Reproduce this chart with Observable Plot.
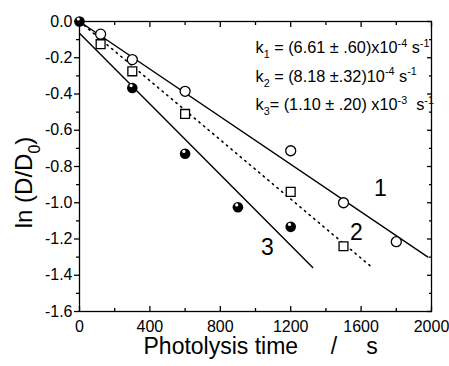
<!DOCTYPE html>
<html><head><meta charset="utf-8">
<script src="https://cdn.jsdelivr.net/npm/d3@7"></script>
<script src="https://cdn.jsdelivr.net/npm/@observablehq/plot@0.6"></script>
<style>html,body{margin:0;padding:0;background:#fff}</style>
</head><body><div id="chart"></div>
<script>
// Series 1: open circles
const series1X = [120, 300, 600, 1200, 1500, 1800];
const series1Y = [-0.07, -0.21, -0.385, -0.713, -1.00, -1.215];
// Series 2: open squares
const series2X = [120, 300, 600, 1200, 1500];
const series2Y = [-0.125, -0.275, -0.51, -0.94, -1.24];
// Series 3: filled spheres
const series3X = [0, 300, 600, 900, 1200];
const series3Y = [0, -0.367, -0.73, -1.025, -1.133];
// Fitted lines (endpoints)
const fit1X = [0, 1980], fit1Y = [0, -1.30];
const fit2X = [0, 1660], fit2Y = [0, -1.355];
const fit3X = [0, 1325], fit3Y = [-0.065, -1.357];
// Ticks
const xTicks = [0, 400, 800, 1200, 1600, 2000];
const xMinorTicks = [200, 600, 1000, 1400, 1800];
const yTicks = [0, -0.2, -0.4, -0.6, -0.8, -1.0, -1.2, -1.4, -1.6];
const yMinorTicks = [-0.1, -0.3, -0.5, -0.7, -0.9, -1.1, -1.3, -1.5];
// Curve labels
const curveLabels = ["1", "2", "3"];
const curveLabelX = [1709, 1573, 1068];
const curveLabelY = [-0.923, -1.166, -1.249];
// Rate constant annotations
const rateTexts = [
  "k_{1} = (6.61 ± .60)x10^{-4} s^{-1}",
  "k_{2} = (8.18 ±.32)10^{-4} s^{-1}",
  "k_{3}= (1.10 ± .20) x10^{-3}  s^{-1}"
];
const xLabelParts = ["Photolysis time", "/", "s"];
const yLabel = "ln (D/D_{0})";

const toPts = (xs, ys) => xs.map((x, i) => ({x, y: ys[i]}));
const s1 = toPts(series1X, series1Y);
const s2 = toPts(series2X, series2Y);
const s3 = toPts(series3X, series3Y);
const f1 = toPts(fit1X, fit1Y);
const f2 = toPts(fit2X, fit2Y);
const f3 = toPts(fit3X, fit3Y);
const labels = curveLabels.map((t, i) => ({t, x: curveLabelX[i], y: curveLabelY[i]}));

const font = "'Liberation Sans', Arial, sans-serif";
const sw = 1.3;

const chart = Plot.plot({
  width: 449, height: 366,
  marginLeft: 79, marginRight: 18, marginTop: 21, marginBottom: 55,
  x: {domain: [0, 2000]},
  y: {domain: [-1.6, 0]},
  style: {fontFamily: font, background: "white", color: "black", overflow: "visible"},
  marks: [
    // fitted lines
    Plot.line(f1, {x: "x", y: "y", stroke: "black", strokeWidth: 1.4}),
    Plot.line(f2, {x: "x", y: "y", stroke: "black", strokeWidth: 1.6, strokeDasharray: "1.4,4.6"}),
    Plot.line(f3, {x: "x", y: "y", stroke: "black", strokeWidth: 1.4}),
    // points
    Plot.dot(s1, {x: "x", y: "y", r: 5, stroke: "black", strokeWidth: sw, fill: "white"}),
    Plot.dot(s2, {x: "x", y: "y", r: 5, symbol: "square", stroke: "black", strokeWidth: sw, fill: "white"}),
    Plot.dot(s3, {x: "x", y: "y", r: 5.3, fill: "black", stroke: "none"}),
    Plot.dot(s3, {x: "x", y: "y", r: 1.6, fill: "white", stroke: "none", dx: -1.2, dy: -2.4}),
    // frame
    Plot.frame({stroke: "black", strokeWidth: sw}),
    // bottom ticks (inward) and labels
    Plot.axisX(xTicks, {anchor: "bottom", tickSize: 5, dy: -5, fill: "none", strokeWidth: sw}),
    Plot.axisX(xMinorTicks, {anchor: "bottom", tickSize: 3, dy: -3, fill: "none", strokeWidth: sw}),
    Plot.axisX(xTicks, {anchor: "bottom", tickSize: 0, tickPadding: 9, fontSize: 16, label: null, tickFormat: d => String(d)}),
    // top ticks (inward)
    Plot.axisX(xTicks, {anchor: "top", tickSize: 5, dy: 5, fill: "none", strokeWidth: sw}),
    Plot.axisX(xMinorTicks, {anchor: "top", tickSize: 3, dy: 3, fill: "none", strokeWidth: sw}),
    // left ticks (outward) and labels
    Plot.axisY(yTicks, {anchor: "left", tickSize: 5, tickPadding: 2, fontSize: 16, label: null, strokeWidth: sw, tickFormat: d => d.toFixed(1)}),
    Plot.axisY(yMinorTicks, {anchor: "left", tickSize: 3, fill: "none", strokeWidth: sw}),
    // right ticks (inward)
    Plot.axisY(yTicks, {anchor: "right", tickSize: 5, dx: -5, fill: "none", strokeWidth: sw}),
    Plot.axisY(yMinorTicks, {anchor: "right", tickSize: 3, dx: -3, fill: "none", strokeWidth: sw}),
    // curve labels
    Plot.text(labels, {x: "x", y: "y", text: "t", fontSize: 23, fill: "black"}),
    // rate constants
    ...rateTexts.map((t, i) => Plot.text([t], {frameAnchor: "top-left", dx: 176, dy: 26.5 + i * 28.5, textAnchor: "start", lineAnchor: "middle", fontSize: 16.3, fill: "black"})),
    // axis titles
    Plot.text([xLabelParts[0]], {frameAnchor: "bottom-left", dx: 64, dy: 35.5, textAnchor: "start", lineAnchor: "middle", fontSize: 23, fill: "black"}),
    Plot.text([xLabelParts[1]], {frameAnchor: "bottom-left", dx: 254.5, dy: 35.5, textAnchor: "middle", lineAnchor: "middle", fontSize: 23, fill: "black"}),
    Plot.text([xLabelParts[2]], {frameAnchor: "bottom-left", dx: 292.5, dy: 35.5, textAnchor: "middle", lineAnchor: "middle", fontSize: 23, fill: "black"}),
    Plot.text([yLabel], {frameAnchor: "left", dx: -55, dy: 16, rotate: -90, textAnchor: "middle", lineAnchor: "middle", fontSize: 24, fill: "black"})
  ]
});

document.getElementById("chart").appendChild(chart);

// Render _{sub} and ^{sup} markup as tspans
d3.select(chart).selectAll("text").each(function () {
  const s = this.textContent;
  if (!/[_^]\{/.test(s)) return;
  const fs = parseFloat(getComputedStyle(this).fontSize) || 16;
  const el = d3.select(this);
  this.textContent = "";
  const re = /([_^])\{([^}]*)\}/g;
  const parts = [];
  let last = 0, m;
  while ((m = re.exec(s))) {
    if (m.index > last) parts.push({t: s.slice(last, m.index), k: ""});
    parts.push({t: m[2], k: m[1]});
    last = re.lastIndex;
  }
  if (last < s.length) parts.push({t: s.slice(last), k: ""});
  let shift = 0;
  for (const p of parts) {
    const target = p.k === "_" ? fs * 0.32 : p.k === "^" ? -fs * 0.4 : 0;
    const ts = el.append("tspan").text(p.t).attr("dy", target - shift);
    if (p.k) ts.attr("font-size", fs * 0.66);
    shift = target;
  }
});
</script>
</body></html>
